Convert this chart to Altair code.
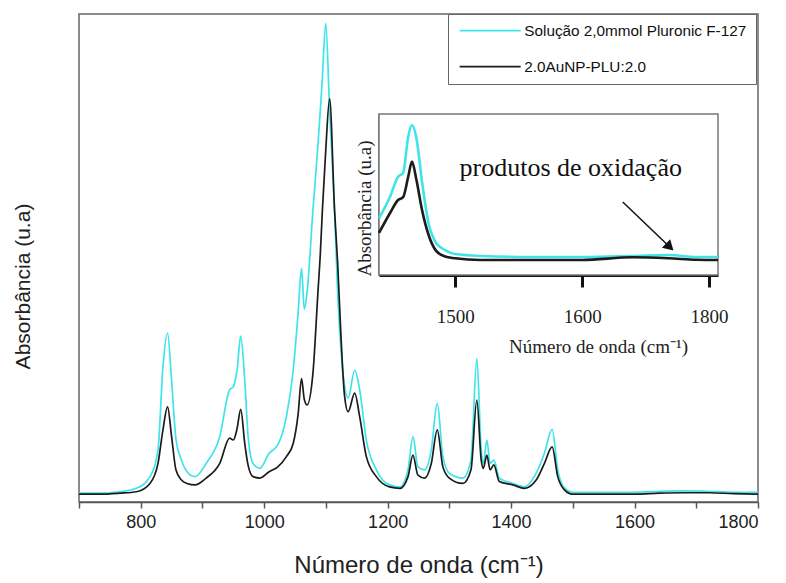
import altair as alt
import pandas as pd

# ---------------- data ----------------
series = ["Solução 2,0mmol Pluronic F-127", "2.0AuNP-PLU:2.0"]
colors = ["#3ee4ea", "#1c1c1c"]

wn = [700, 734, 766, 793, 815, 828, 836, 843.5, 850, 857, 866, 875, 888, 906, 928,
      944, 950, 956, 962, 968.5, 974, 982, 993, 1008, 1022, 1036, 1047, 1055,
      1060.5, 1065, 1069.5, 1079, 1087, 1091, 1094.3, 1099.7, 1106, 1114, 1119,
      1124, 1130, 1136, 1146.6, 1154.7, 1165.5, 1181.7, 1203, 1220, 1233, 1241,
      1249, 1260, 1270.7, 1280.4, 1289.5, 1300, 1322, 1335, 1344.5, 1351.6, 1355,
      1360.7, 1366, 1372, 1381, 1403, 1421.7, 1440.6, 1454, 1466.5, 1475.6,
      1486.4, 1500, 1550, 1600, 1640, 1680, 1720, 1760, 1800]
cyan = [0.018, 0.018, 0.021, 0.028, 0.052, 0.107, 0.277, 0.346, 0.250, 0.130, 0.086,
        0.062, 0.052, 0.079, 0.134, 0.230, 0.236, 0.270, 0.340, 0.250, 0.134, 0.079,
        0.069, 0.100, 0.117, 0.175, 0.270, 0.387, 0.479, 0.395, 0.430, 0.598, 0.730,
        0.803, 0.870, 0.981, 0.803, 0.598, 0.428, 0.320, 0.240, 0.213, 0.270, 0.230,
        0.127, 0.066, 0.035, 0.031, 0.066, 0.134, 0.072, 0.066, 0.107, 0.202, 0.093,
        0.059, 0.049, 0.086, 0.294, 0.107, 0.079, 0.127, 0.079, 0.086, 0.049, 0.038,
        0.031, 0.059, 0.100, 0.149, 0.066, 0.029, 0.020, 0.020, 0.020, 0.022, 0.023,
        0.022, 0.020, 0.020]
black = [0.016, 0.016, 0.018, 0.021, 0.038, 0.079, 0.148, 0.195, 0.134, 0.066, 0.045,
         0.038, 0.035, 0.049, 0.079, 0.131, 0.127, 0.150, 0.190, 0.120, 0.075, 0.052,
         0.049, 0.062, 0.072, 0.093, 0.120, 0.180, 0.253, 0.210, 0.199, 0.264, 0.428,
         0.510, 0.598, 0.720, 0.826, 0.598, 0.490, 0.350, 0.220, 0.185, 0.223, 0.175,
         0.093, 0.052, 0.031, 0.028, 0.052, 0.096, 0.055, 0.049, 0.079, 0.148, 0.072,
         0.049, 0.038, 0.066, 0.209, 0.086, 0.069, 0.096, 0.066, 0.076, 0.042, 0.035,
         0.028, 0.045, 0.079, 0.113, 0.052, 0.025, 0.016, 0.016, 0.016, 0.018, 0.019,
         0.019, 0.017, 0.016]

inset_wn = [1440, 1448.7, 1455, 1459, 1463, 1466, 1469.5, 1474, 1479, 1485, 1492,
            1500, 1520, 1560, 1600, 1640, 1668, 1690, 1707]
inset_cyan = [0.352, 0.486, 0.610, 0.634, 0.859, 0.932, 0.850, 0.571, 0.323, 0.199,
              0.155, 0.130, 0.118, 0.112, 0.112, 0.118, 0.124, 0.112, 0.112]
inset_black = [0.261, 0.385, 0.466, 0.484, 0.610, 0.704, 0.590, 0.400, 0.250, 0.150,
               0.115, 0.104, 0.093, 0.093, 0.093, 0.110, 0.104, 0.095, 0.093]
inset_domain = [1440, 1707]
inset_ticks = [1500, 1600, 1700]

note_text = ["produtos de oxidação"]
note_pos = [1591, 0.665]
arrow_from = [1632, 0.453]
arrow_to = [1669, 0.174]

# ---------------- main spectra ----------------
color_scale = alt.Scale(domain=series, range=colors)
legend = alt.Legend(
    orient="none", legendX=369, legendY=0, title=None,
    symbolType="M-1,0H11.2", symbolSize=100, symbolStrokeWidth=1.8,
    labelFont="Liberation Sans", labelFontSize=15.3, labelColor="#111",
    labelOffset=52, labelLimit=400, strokeColor="#666", fillColor="white",
    padding=9, rowPadding=20,
)

x_main = alt.X("wn:Q",
    scale=alt.Scale(domain=[700, 1800], nice=False, zero=False),
    axis=alt.Axis(values=list(range(700, 1801, 100)),
                  labelExpr="datum.value % 200 == 0 ? datum.label : ''",
                  format="d", title="Número de onda (cm⁻¹)",
                  labelFont="Liberation Sans", labelFontSize=18, labelColor="#222",
                  titleFont="Liberation Sans", titleFontSize=24, titleFontWeight="normal",
                  titleColor="#222", titlePadding=22, tickSize=6, tickColor="#555",
                  domainColor="#555", domainWidth=1.5, tickWidth=1.5, labelPadding=5))
y_main = alt.Y("abs:Q",
    scale=alt.Scale(domain=[0, 1], nice=False),
    axis=alt.Axis(title="Absorbância (u.a)", labels=False, ticks=False, domain=False,
                  titleFont="Liberation Sans", titleFontSize=21, titleFontWeight="normal",
                  titleColor="#222", titlePadding=46, titleY=272))

df_c = pd.DataFrame({"wn": wn, "abs": cyan, "serie": series[0]})
df_k = pd.DataFrame({"wn": wn, "abs": black, "serie": series[1]})

main_c = alt.Chart(df_c).mark_line(strokeWidth=1.7, interpolate="monotone").encode(
    x=x_main, y=y_main, color=alt.Color("serie:N", scale=color_scale, legend=legend))
main_k = alt.Chart(df_k).mark_line(strokeWidth=1.7, interpolate="monotone").encode(
    x=x_main, y=y_main, color=alt.Color("serie:N", scale=color_scale, legend=legend))
main = alt.layer(main_c, main_k)

# ---------------- inset ----------------
serif = "Liberation Serif"
xin_scale = alt.Scale(domain=inset_domain, range=[300, 639], nice=False, zero=False)
yin_scale = alt.Scale(domain=[0, 1], range=[261, 100], nice=False)
xin_axis = alt.Axis(orient="bottom", offset=-227, values=inset_ticks,
                    labelExpr="datum.value == 1700 ? '1800' : datum.label", format="d",
                    title="Número de onda (cm⁻¹)", titleFont=serif, titleFontSize=19,
                    titleFontWeight="normal", titleColor="#222", titleX=519, titleY=62,
                    labelFont=serif, labelFontSize=19, labelColor="#222", labelPadding=20,
                    tickSize=12, tickWidth=3, tickColor="#111", domainColor="#111",
                    domainWidth=3)
yin_axis = alt.Axis(orient="left", offset=-300, labels=False, ticks=False,
                    title="Absorbância (u.a)", titleFont=serif, titleFontSize=19,
                    titleFontWeight="normal", titleColor="#222", titlePadding=5,
                    titleY=194, domainColor="#111", domainWidth=2)

def xin(field):
    return alt.X(field, scale=xin_scale, axis=xin_axis)

def yin(field):
    return alt.Y(field, scale=yin_scale, axis=yin_axis)

box_df = pd.DataFrame({"x0": [inset_domain[0]], "x1": [inset_domain[1]], "y0": [0], "y1": [1]})
box = alt.Chart(box_df).mark_rect(fill="white", stroke="#777", strokeWidth=1.5).encode(
    x=xin("x0:Q"), x2="x1:Q", y=yin("y0:Q"), y2="y1:Q")

in_c = alt.Chart(pd.DataFrame({"wn": inset_wn, "abs": inset_cyan})).mark_line(
    strokeWidth=2.6, color=colors[0], interpolate="monotone").encode(x=xin("wn:Q"), y=yin("abs:Q"))
in_k = alt.Chart(pd.DataFrame({"wn": inset_wn, "abs": inset_black})).mark_line(
    strokeWidth=2.6, color=colors[1], interpolate="monotone").encode(x=xin("wn:Q"), y=yin("abs:Q"))

note = alt.Chart(pd.DataFrame({"wn": [note_pos[0]], "abs": [note_pos[1]], "t": note_text})).mark_text(
    font=serif, fontSize=26, color="#111", align="center", baseline="middle").encode(
    x=xin("wn:Q"), y=yin("abs:Q"), text="t:N")

arrow_df = pd.DataFrame({"wn": [arrow_from[0]], "abs": [arrow_from[1]],
                         "wn2": [arrow_to[0]], "abs2": [arrow_to[1]]})
arrow = alt.Chart(arrow_df).mark_rule(color="#111", strokeWidth=1.5).encode(
    x=xin("wn:Q"), y=yin("abs:Q"), x2="wn2:Q", y2="abs2:Q")
head = alt.Chart(pd.DataFrame({"wn": [arrow_to[0]], "abs": [arrow_to[1]]})).mark_point(
    shape="triangle-up", filled=True, color="#111", size=140, angle=134, opacity=1).encode(
    x=xin("wn:Q"), y=yin("abs:Q"))

inset = alt.layer(box, in_c, in_k, note, arrow, head)

chart = alt.layer(main, inset).resolve_scale(x="independent", y="independent").properties(
    width=679, height=488,
    autosize=alt.AutoSizeParams(type="none"),
    padding={"left": 79, "top": 14, "right": 28, "bottom": 81},
    background="white",
).configure_view(stroke="#666", strokeWidth=1.5).configure_axis(grid=False)

chart.save("out.html", embed_options={"renderer": "svg", "actions": False})
